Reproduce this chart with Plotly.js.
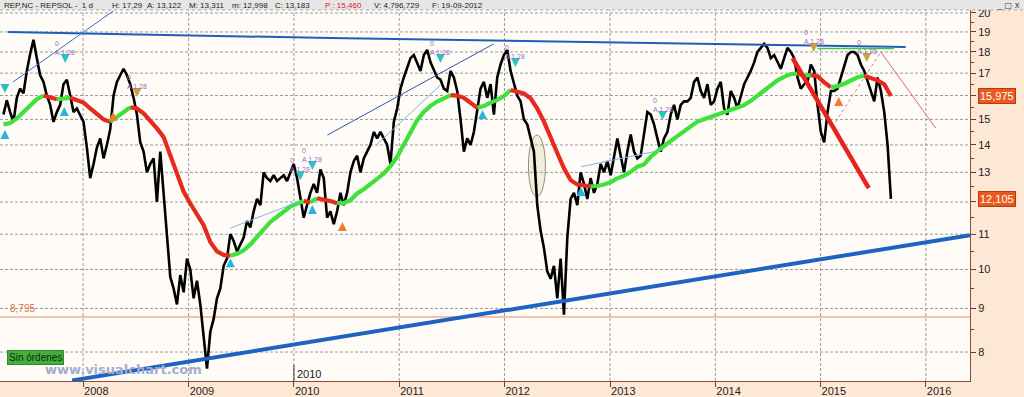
<!DOCTYPE html>
<html><head><meta charset="utf-8">
<script src="https://cdn.plot.ly/plotly-3.0.1.min.js"></script>
<style>html,body{margin:0;padding:0;background:#fde8d6;}#chart{width:1024px;height:397px;}</style>
</head><body><div id="chart"></div>
<script>
// ---------- DATA ----------
const priceStart = '2007-03-31';
const priceStepDays = 11.567;
const priceA = [15.2,15.8,15.3,14.9,15.9,16.3,16.1,17.1,17.9,18.6,
17.7,16.9,16.6,16.0,15.6,14.9,15.3,15.6,16.5,16.7,
16.0,15.3,15.45,15.2,14.9,13.9,12.8,13.3,13.9,14.25,
13.5,14.0,14.6,16.0,16.6,16.9,17.2,16.9,16.5,15.9,
15.2,14.1,13.75,13.0,13.3,13.5,12.0,13.75,12.3,11.1,
9.8,9.5,9.1,9.85,9.4,10.3,10.0,9.25,9.7,9.1,
8.3,7.65,8.45,8.75,9.25,9.5,10.1,10.3,11.0,10.8,
10.5,10.7,10.9,11.4,11.2,11.7,12.1,11.9,13.0,12.8,
12.7,12.9,12.7,12.8,12.9,12.7,13.0,13.3,12.8,12.1,
11.5,11.9,12.3,12.6,12.3];
const priceB = [13.1,12.8,11.5,11.7,11.3,11.7,12.3,11.9,12.3,13.0,
13.4,13.6,13.0,13.5,13.75,14.0,14.5,14.25,14.5,14.25,
14.0,13.3,14.9,15.45,16.3,16.8,17.2,17.7,17.85,17.5,
17.1,17.85,18.1,17.5,17.1,16.8,16.7,16.3,16.2,17.1,
16.8,16.2,15.0,13.75,14.25,14.0,14.5,15.3,16.3,16.6,
15.9,16.5,15.2,16.8,17.4,17.85,18.1,17.1,16.5,16.0,
15.75,15.0,14.8,14.25,13.75,11.9,11.1,10.6,9.95,9.75,
10.1,9.25,10.3,8.85,10.9,12.1,12.3,11.9,13.0,12.6,
12.1,12.8,12.3,12.6,13.3,13.0,13.4,12.9,13.6,14.25,
13.6,13.0,13.75,14.4,13.75,13.5];
const priceC = [13.6,14.5,15.3,15.2,14.8,14.25,13.75,14.25,14.5,15.2,
15.6,15.0,15.6,15.75,15.75,15.9,16.6,16.8,16.2,15.9,
16.5,15.6,15.75,16.3,16.6,15.45,15.2,16.2,15.9,15.45,
16.0,16.5,16.8,17.1,17.5,18.0,18.2,18.4,18.2,17.7,
17.85,17.5,17.2,17.7,18.2,18.0,17.7,16.8,16.3,16.5,
16.6,17.4,17.1,15.6,14.5,14.1,15.3,16.2,16.2,16.3,
16.8,17.4,17.85,18.0,18.0,17.85,17.4,17.1,16.6,16.2,
15.75,16.8,16.2,15.3,14.0,12.1];
const maStepDays = 23.134;
const maA = [14.8,14.85,15.04,15.3,15.6,15.84,16.0,15.9,15.84,15.88,15.9,15.78,15.7,15.45,15.2,15.0,14.9,15.1,15.3,15.5,15.45,15.25,14.97,14.64,14.3,13.6,12.9,12.34,11.95,11.63,11.27,10.77,10.5,10.4,10.38,10.43,10.53,10.7,10.92,11.15,11.37,11.53,11.71,11.85,11.95,12.03,11.99,12.12];
const maB = [12.09,12.03,11.96,11.97,12.06,12.28,12.42,12.58,12.77,12.96,13.22,13.56,14.0,14.51,14.97,15.31,15.56,15.74,15.88,16.02,16.0,15.9,15.7,15.48,15.55,15.7,15.81,15.98,16.24,16.16,16.09,15.88,15.45,14.91,14.25,13.7,13.14,12.73,12.58,12.54,12.52,12.53,12.58,12.66,12.79,12.88,13.02,13.2];
const maC = [13.28,13.56,13.77,13.98,14.15,14.34,14.54,14.74,14.91,15.01,15.1,15.22,15.31,15.38,15.48,15.59,15.77,15.99,16.25,16.49,16.67,16.83,16.96,16.98,16.88,16.91,16.86,16.58,16.36,16.41,16.52,16.69,16.81,16.88,16.78,16.67,16.49,15.98];

// trend lines (date, price)
const resistDates = ['2007-04-16','2010-05-07','2013-05-21','2015-10-23'];
const resistPrices = [19.0,18.69,18.44,18.24];
const supportDates = ['2007-11-24','2016-06-02'];
const supportPrices = [7.41,10.97];
const greenTopDates = ['2014-12-22','2015-09-12'];
const greenTopPrices = [18.17,18.17];
const thinBlue = [
  {d:['2007-05-03','2008-04-14'], p:[16.6,20.1], c:'#3b6fc4'},
  {d:['2010-04-27','2011-11-24'], p:[14.38,18.39], c:'#2b5aa8'},
  {d:['2010-10-14','2011-05-24'], p:[14.0,16.46], c:'#7fb4e6'},
  {d:['2009-05-26','2010-01-23'], p:[11.18,12.03], c:'#7fb4e6'},
  {d:['2012-09-22','2013-06-25'], p:[13.2,13.8], c:'#7fb4e6'}
];
const redThickDates = ['2014-09-26','2015-06-17'];
const redThickPrices = [17.7,12.46];
const redThinDates = ['2015-07-29','2016-02-04'];
const redThinPrices = [18.0,14.65];
const pinkDashDates = ['2015-02-22','2015-07-29'];
const pinkDashPrices = [14.9,18.0];
const levelPrice = 8.795;
const levelLabel = '8,795';
const ellipseDates = ['2012-03-24','2012-05-22'];
const ellipsePrices = [12.17,14.38];
const lastPrice = 12.105, lastPriceLabel = '12,105';
const lastMA = 15.975, lastMALabel = '15,975';

// signals
const sigDates = ['2007-10-31','2007-10-28','2007-04-05','2007-04-05','2008-07-06','2008-04-14','2010-03-06','2010-01-23','2009-05-26','2010-03-06','2011-05-24','2012-02-08','2010-06-18','2013-07-02','2014-12-08','2015-06-10','2015-03-05','2011-10-17','2012-09-22'];
const sigPrices = [17.47,15.51,16.11,14.58,15.94,15.31,13.08,12.73,10.31,11.9,17.47,17.28,11.37,14.98,18.0,17.52,15.94,15.39,12.5];
const sigKinds = ['cd','cu','cd','cu','yd','ou','cd','cd','cu','cu','cd','cd','ou','cd','yd','yd','ou','cu','cu'];
const sigLabeled = [1,0,0,0,1,0,1,1,0,0,1,1,0,1,1,1,0,0,0];
const sigText = '0<br>A 1.28';

// axis ticks
const yearTicks = ['2008','2009','2010','2011','2012','2013','2014','2015','2016'];
const priceTicks = [8,9,10,11,12,13,14,15,16,17,18,19,20];
const priceTickText = ['8','9','10','11','','13','14','15','','17','18','19','20'];
const minorTicks = [8.5,9.5,10.5,11.5,12.5,13.5,14.5,15.5,16.5,17.5,18.5,19.5];

// header
const headerParts = ['REP,NC - REPSOL -  1 d','H: 17,29','A: 13,122','M: 13,311','m: 12,998','C: 13,183','P : 15,460','V: 4,796,729','F: 19-09-2012'];
const headerColors = ['#222','#222','#222','#222','#222','#222','#e02020','#222','#222'];

// ---------- BUILD ----------
const W = 1024, H = 397, ML = 0, MR = 54, MT = 10, MB = 16;
const PW = W - ML - MR, PH = H - MT - MB;
const FN = 'Liberation Sans Narrow, Liberation Sans, Arial, sans-serif';
const XR = ['2007-03-19','2016-06-02'];
const YR = [0.8691, 1.3045];
const L10 = v => Math.log10(v);

function dateSeq(start, step, n){
  const t0 = Date.parse(start + 'T00:00:00Z'); const out = [];
  for (let i=0;i<n;i++) out.push(new Date(t0 + i*step*86400000).toISOString().replace('T',' ').slice(0,19));
  return out;
}
const price = priceA.concat(priceB, priceC);
const priceDates = dateSeq(priceStart, priceStepDays, price.length);
const ma = maA.concat(maB, maC);
const maDates = dateSeq(priceStart, maStepDays, ma.length);

const traces = [];
function line(d,p,c,w,dash){ traces.push({x:d,y:p,mode:'lines',line:{color:c,width:w,dash:dash||'solid'},hoverinfo:'skip'}); }

// dashed grid (drawn as thin traces)
const yLo = Math.pow(10, YR[0]), yHi = Math.pow(10, YR[1]);
priceTicks.forEach(v => line(XR, [v, v], '#9a9a9a', 1, '3px,2px'));
yearTicks.forEach(y => line([y+'-01-01', y+'-01-01'], [yLo, yHi], '#9a9a9a', 1, '3px,2px'));

line(XR, [levelPrice, levelPrice], '#e58a62', 1);
traces.push({x:priceDates, y:price, mode:'lines', line:{color:'#000', width:2.6}, hoverinfo:'skip'});

// MA split into rising (green) / falling (red)
let segStart = 0;
const col = i => (ma[i+1] >= ma[i] ? '#3ee23a' : '#e62a1e');
for (let i=1;i<ma.length;i++){
  if (i === ma.length-1 || col(i) !== col(segStart)){
    traces.push({x:maDates.slice(segStart,i+1), y:ma.slice(segStart,i+1), mode:'lines',
      line:{color:col(segStart), width:4.2}, hoverinfo:'skip'});
    segStart = i;
  }
}

line(resistDates, resistPrices, '#1d5fb8', 2);
line(greenTopDates, greenTopPrices, '#43c43f', 1.5);
line(supportDates, supportPrices, '#1e63c2', 4);
thinBlue.forEach(t => line(t.d, t.p, t.c, 1));
line(redThickDates, redThickPrices, '#e8231b', 4.5);
line(redThinDates, redThinPrices, '#d46a6a', 1);
line(pinkDashDates, pinkDashPrices, '#e07a8a', 1, 'dot');

const kindStyle = {cd:{s:'arrow-down',c:'#25c4c0'}, cu:{s:'arrow-up',c:'#25b6e0'}, yd:{s:'arrow-down',c:'#c8a23a'}, ou:{s:'arrow-up',c:'#f07a30'}};
Object.keys(kindStyle).forEach(k => {
  const idx = sigKinds.map((v,i)=>v===k?i:-1).filter(i=>i>=0);
  traces.push({x:idx.map(i=>sigDates[i]), y:idx.map(i=>sigPrices[i]), mode:'markers',
    marker:{symbol:kindStyle[k].s, size:9, color:kindStyle[k].c, line:{width:0}}, hoverinfo:'skip'});
});

const annotations = [];
const headerX = [2,110,145,187,230,273,323,372,430];
headerParts.forEach((t,i) => annotations.push({xref:'paper', yref:'paper', x:headerX[i]/PW, y:1+5/PH, xanchor:'left', yanchor:'middle',
  text:t, showarrow:false, font:{family:FN, size:8, color:headerColors[i]}}));
annotations.push({xref:'paper', yref:'paper', x:(1008)/PW, y:1+5/PH, xanchor:'center', yanchor:'middle', text:'_ □ x', showarrow:false, font:{family:'DejaVu Sans', size:8, color:'#444'}});
sigDates.forEach((d,i) => { if (sigLabeled[i]) annotations.push({x:d, y:L10(sigPrices[i]), yshift:15, text:sigText, showarrow:false,
  font:{family:FN, size:7, color:'#9a6cc0'}, align:'left'}); });
annotations.push({xref:'paper', x:8/PW, xanchor:'left', y:L10(levelPrice), yanchor:'bottom', yshift:1, text:levelLabel, showarrow:false, font:{family:FN, size:10, color:'#d9704e'}});
[[lastMA,lastMALabel],[lastPrice,lastPriceLabel]].forEach(([v,t]) => annotations.push({xref:'paper', x:1, xshift:8, xanchor:'left', y:L10(v), yanchor:'middle',
  text:t, showarrow:false, bgcolor:'#ea5a1e', bordercolor:'#b83a10', borderwidth:1, borderpad:1, font:{family:FN, size:11, color:'#fff'}}));
annotations.push({xref:'paper', yref:'paper', x:7/PW, xanchor:'left', y:(PH-(357-MT))/PH, yanchor:'middle', text:'Sin órdenes', showarrow:false,
  bgcolor:'#45ad3c', bordercolor:'#2f8a2a', borderwidth:1, borderpad:1, font:{family:FN, size:10, color:'#0b2a0b'}});
annotations.push({xref:'paper', yref:'paper', x:123/PW, xanchor:'center', y:(PH-(369-MT))/PH, yanchor:'middle', text:'<b>www.visualchart.com</b>', showarrow:false,
  font:{family:'DejaVu Sans, Verdana, sans-serif', size:13, color:'#a4acd0'}});
annotations.push({x:yearTicks[2]+'-01-01', xanchor:'left', xshift:1, yref:'paper', y:(PH-(374-MT))/PH, yanchor:'middle', text:yearTicks[2], showarrow:false, font:{family:FN, size:11, color:'#222'}});

const shapes = [
  {type:'rect', xref:'paper', yref:'paper', x0:0, x1:W/PW, y0:1, y1:1+MT/PH, fillcolor:'#e6e6e6', line:{width:0}, layer:'above'},
  {type:'line', xref:'paper', yref:'paper', x0:0, x1:W/PW, y0:1, y1:1, line:{color:'#a8a8a8', width:1, dash:'dot'}, layer:'above'},
  {type:'circle', xref:'x', yref:'y', x0:ellipseDates[0], x1:ellipseDates[1], y0:ellipsePrices[0], y1:ellipsePrices[1],
    fillcolor:'#f4ecdc', line:{color:'#8f8f80', width:1}, layer:'below'},
  {type:'line', xref:'x', yref:'paper', x0:yearTicks[2]+'-01-01', x1:yearTicks[2]+'-01-01', y0:0, y1:16/PH, line:{color:'#333', width:1}}
];

const layout = {
  width:W, height:H, margin:{l:ML, r:MR, t:MT, b:MB, pad:0},
  paper_bgcolor:'#fde8d6', plot_bgcolor:'#fffcf8', showlegend:false,
  xaxis:{type:'date', range:XR, tickmode:'array',
    tickvals:yearTicks.map(y=>y+'-01-01'), ticktext:yearTicks, ticks:'outside', ticklen:5, tickcolor:'#7a3a2a',
    ticklabelposition:'outside right', tickfont:{family:FN, size:11, color:'#222'},
    showline:true, linecolor:'#8b4a3a', linewidth:1, showgrid:false, zeroline:false, fixedrange:true},
  yaxis:{type:'log', side:'right', range:YR, tickmode:'array', tickvals:priceTicks, ticktext:priceTickText,
    ticks:'outside', ticklen:5, tickcolor:'#7a3a2a', tickfont:{family:FN, size:11, color:'#222'},
    showline:true, linecolor:'#8b4a3a', linewidth:1, showgrid:false, zeroline:false,
    minor:{tickmode:'array', tickvals:minorTicks, ticks:'outside', ticklen:3, tickcolor:'#7a3a2a', showgrid:false}, fixedrange:true},
  shapes:shapes, annotations:annotations
};
Plotly.newPlot('chart', traces, layout, {staticPlot:true, displayModeBar:false});
</script></body></html>
